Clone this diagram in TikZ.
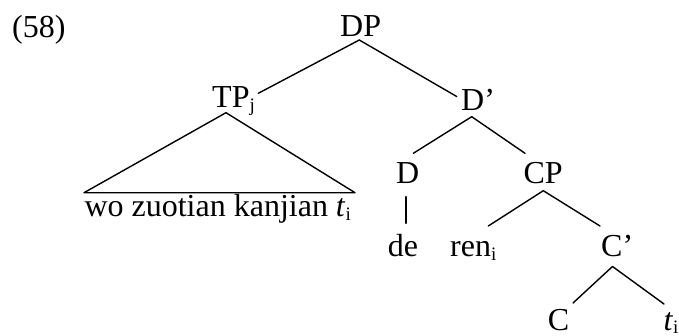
\documentclass[tikz,border=0pt]{standalone}
\usepackage{fontspec}
\setmainfont{Liberation Serif}
\usetikzlibrary{calc}
\newcommand{\lsub}[1]{\raisebox{-3.5pt}{\fontsize{19}{19}\selectfont #1}}
\begin{document}
\begin{tikzpicture}[x=1pt,y=-1pt,
  lbl/.style={inner sep=0pt,outer sep=0pt,anchor=base west,font=\fontsize{32}{32}\selectfont},
  br/.style={line width=1.4pt,line cap=round,line join=round}]
\useasboundingbox (0,0) rectangle (679,335);
\node[lbl] (ex) at (12.2,37.3) {(58)};
\node[lbl] (DP) at (340.2,36.5) {DP};
\node[lbl] (TP) at (212.2,107.8) {TP\lsub{j}};
\node[lbl] (Dbar) at (461.2,110.5) {D’};
\node[lbl] (D) at (396.2,183.3) {D};
\node[lbl] (CP) at (523.5,183.3) {CP};
\node[lbl] (yield) at (84.5,216.7) {wo zuotian kanjian \textit{t}\lsub{i}};
\node[lbl] (de) at (387.8,256.7) {de};
\node[lbl] (ren) at (450.2,256.7) {ren\lsub{i}};
\node[lbl] (Cbar) at (601.2,256.7) {C’};
\node[lbl] (C) at (547.8,330.2) {C};
\node[lbl] (t) at (663.5,330.2) {\textit{t}\lsub{i}};
% DP
\draw[br] ($(DP.base west)+(19.1,3.5)$) -- ($(TP.base west)+(46.1,-14.5)$);
\draw[br] ($(DP.base west)+(19.1,3.5)$) -- ($(Dbar.base west)+(-4.5,-14)$);
% TP triangle
\draw[br] ($(TP.base west)+(13.8,4.9)$) -- ($(yield.base west)+(-0.5,-24)$) -- ($(yield.base west)+(270.5,-24)$) -- cycle;
% D'
\draw[br] ($(Dbar.base west)+(10.5,6.2)$) -- ($(D.base west)+(17.1,-30)$);
\draw[br] ($(Dbar.base west)+(10.5,6.2)$) -- ($(CP.base west)+(1.5,-30)$);
% D
\draw[br] ($(D.base west)+(9.8,13.4)$) -- ($(de.base west)+(18.2,-33.4)$);
% CP
\draw[br] ($(CP.base west)+(19.8,7.4)$) -- ($(ren.base west)+(38.1,-30.7)$);
\draw[br] ($(CP.base west)+(19.8,7.4)$) -- ($(Cbar.base west)+(-1.2,-30.7)$);
% C'
\draw[br] ($(Cbar.base west)+(11.3,9.8)$) -- ($(C.base west)+(25.2,-27.2)$);
\draw[br] ($(Cbar.base west)+(11.3,9.8)$) -- ($(t.base west)+(0.5,-26.2)$);
\end{tikzpicture}
\end{document}
